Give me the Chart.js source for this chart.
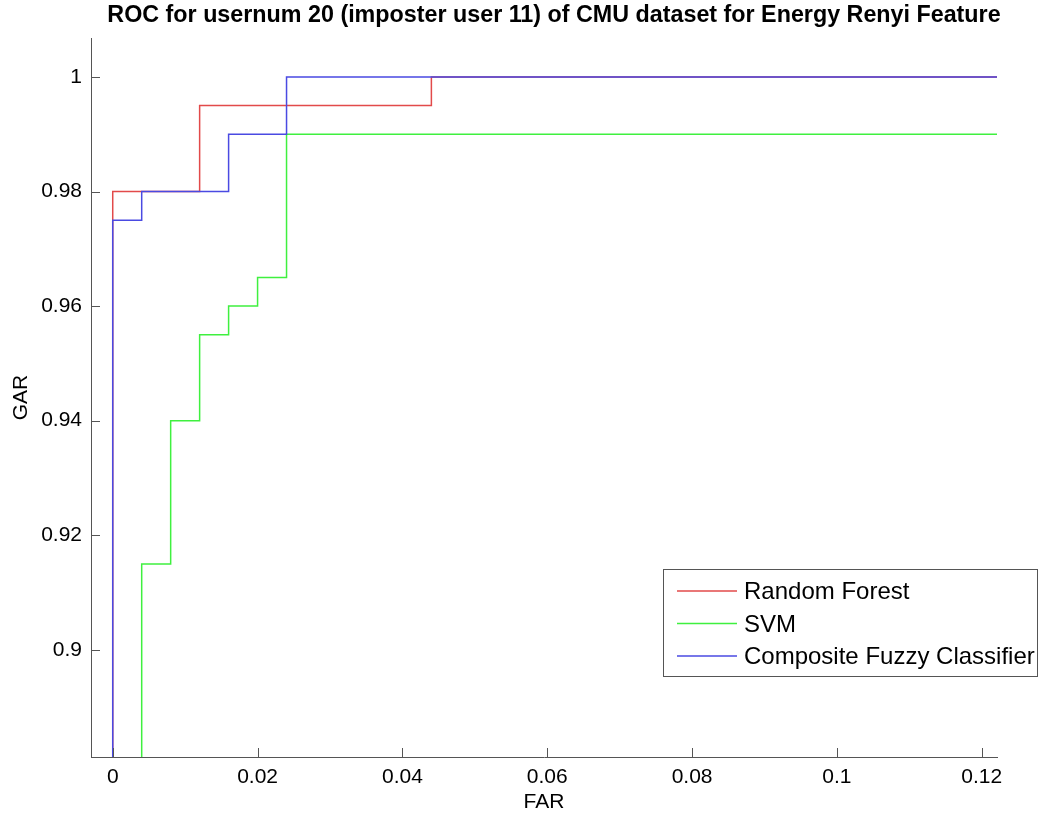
<!DOCTYPE html>
<html lang="en">
<head>
    <meta charset="UTF-8">
    <title>ROC</title>
    <script src="https://cdn.jsdelivr.net/npm/chart.js"></script>
    <style>
        html, body { margin: 0; padding: 0; background: #fff; }
        #wrap { width: 1038px; height: 816px; position: relative; }
    </style>
</head>
<body>
    <div id="wrap"><canvas id="roc"></canvas></div>

    <script>
        // datos
        var titulo = 'ROC for usernum 20 (imposter user 11) of CMU dataset for Energy Renyi Feature';
        var etiquetas = ['Random Forest', 'SVM', 'Composite Fuzzy Classifier'];
        var colores = ['#e24a4a', '#3ff03f', '#4a4ae2'];

        var rfX = [0, 0, 0.012, 0.012, 0.044, 0.044, 1];
        var rfY = [0, 0.98, 0.98, 0.995, 0.995, 1, 1];

        var svmX = [0.004, 0.004, 0.008, 0.008, 0.012, 0.012, 0.016, 0.016, 0.020, 0.020, 0.024, 0.024, 1];
        var svmY = [0, 0.915, 0.915, 0.94, 0.94, 0.955, 0.955, 0.96, 0.96, 0.965, 0.965, 0.99, 0.99];

        var cfcX = [0, 0, 0.004, 0.004, 0.016, 0.016, 0.024, 0.024, 1];
        var cfcY = [0, 0.975, 0.975, 0.98, 0.98, 0.99, 0.99, 1, 1];

        var xTicks = [0, 0.02, 0.04, 0.06, 0.08, 0.1, 0.12];
        var yTicks = [0.9, 0.92, 0.94, 0.96, 0.98, 1];

        function puntos(xs, ys) {
            return xs.map(function (x, i) { return { x: x, y: ys[i] }; });
        }

        var fuente = '"Liberation Sans", Arial, sans-serif';

        // titulo, ejes, ticks hacia adentro y leyenda
        var decoracion = {
            id: 'decoracion',
            afterDraw: function (chart) {
                var ctx = chart.ctx;
                var a = chart.chartArea;
                var sx = chart.scales.x, sy = chart.scales.y;
                ctx.save();
                ctx.strokeStyle = '#555';
                ctx.lineWidth = 1;
                ctx.beginPath();
                xTicks.forEach(function (v) {
                    var p = Math.round(sx.getPixelForValue(v)) + 0.5;
                    ctx.moveTo(p, a.bottom);
                    ctx.lineTo(p, a.bottom - 9);
                });
                yTicks.forEach(function (v) {
                    var p = Math.round(sy.getPixelForValue(v)) + 0.5;
                    ctx.moveTo(a.left, p);
                    ctx.lineTo(a.left + 9, p);
                });
                ctx.stroke();

                ctx.fillStyle = '#000';
                ctx.font = 'bold 23.3px ' + fuente;
                ctx.textAlign = 'center';
                ctx.textBaseline = 'middle';
                ctx.fillText(titulo, (a.left + a.right) / 2 + 10, 16);

                ctx.font = '21px ' + fuente;
                ctx.fillText('FAR', (a.left + a.right) / 2, 802);
                ctx.save();
                ctx.translate(21, (a.top + a.bottom) / 2);
                ctx.rotate(-Math.PI / 2);
                ctx.fillText('GAR', 0, 0);
                ctx.restore();

                // leyenda
                var lx = 663.5, ly = 569.5, lw = 374, lh = 107;
                ctx.fillStyle = '#fff';
                ctx.fillRect(lx, ly, lw, lh);
                ctx.strokeStyle = '#555';
                ctx.strokeRect(lx, ly, lw, lh);
                ctx.font = '24px ' + fuente;
                ctx.textAlign = 'left';
                etiquetas.forEach(function (t, i) {
                    var y = 591 + i * 32.5;
                    ctx.strokeStyle = colores[i];
                    ctx.lineWidth = 1.5;
                    ctx.beginPath();
                    ctx.moveTo(677, y);
                    ctx.lineTo(737, y);
                    ctx.stroke();
                    ctx.fillStyle = '#000';
                    ctx.fillText(t, 744, y + 1.5);
                });
                ctx.restore();
            }
        };

        var estilo = { fill: false, borderWidth: 1.5, pointRadius: 0, tension: 0 };

        new Chart(document.getElementById('roc'), {
            type: 'line',
            data: {
                datasets: [
                    Object.assign({ label: etiquetas[0], data: puntos(rfX, rfY), borderColor: colores[0], order: 2 }, estilo),
                    Object.assign({ label: etiquetas[1], data: puntos(svmX, svmY), borderColor: colores[1], order: 1 }, estilo),
                    Object.assign({ label: etiquetas[2], data: puntos(cfcX, cfcY), borderColor: colores[2], order: 0 }, estilo)
                ]
            },
            options: {
                responsive: true,
                maintainAspectRatio: false,
                animation: false,
                events: [],
                layout: { padding: { top: 38, right: 41, left: 0, bottom: 0 } },
                plugins: { legend: { display: false }, tooltip: { enabled: false }, title: { display: false } },
                scales: {
                    x: {
                        type: 'linear',
                        min: -0.003,
                        max: 0.1221,
                        afterFit: function (s) { s.height = 59; },
                        afterBuildTicks: function (s) { s.ticks = xTicks.map(function (v) { return { value: v }; }); },
                        grid: { display: false, drawTicks: false },
                        border: { display: true, color: '#555', width: 1 },
                        ticks: {
                            color: '#000',
                            padding: 8,
                            maxRotation: 0,
                            font: { family: fuente, size: 21 },
                            callback: function (v) { return String(+v.toFixed(2)); }
                        }
                    },
                    y: {
                        type: 'linear',
                        min: 0.8813,
                        max: 1.0068,
                        afterFit: function (s) { s.width = 91; },
                        afterBuildTicks: function (s) { s.ticks = yTicks.map(function (v) { return { value: v }; }); },
                        grid: { display: false, drawTicks: false },
                        border: { display: true, color: '#555', width: 1 },
                        ticks: {
                            color: '#000',
                            padding: 9,
                            font: { family: fuente, size: 21 },
                            callback: function (v) { return String(+v.toFixed(2)); }
                        }
                    }
                }
            },
            plugins: [decoracion]
        });
    </script>
</body>
</html>
